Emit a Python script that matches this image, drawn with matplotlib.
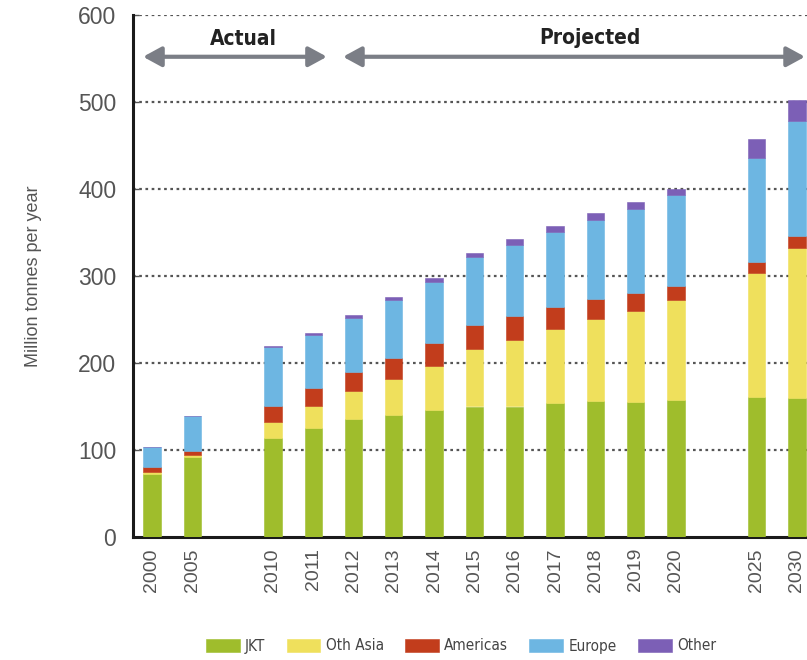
import matplotlib
matplotlib.use("Agg")
import matplotlib.pyplot as plt
from matplotlib import font_manager
import numpy as np

# Data (million tonnes per year)
years = ["2000", "2005", "2010", "2011", "2012", "2013", "2014", "2015",
         "2016", "2017", "2018", "2019", "2020", "2025", "2030"]
slots = [0, 1, 3, 4, 5, 6, 7, 8, 9, 10, 11, 12, 13, 15, 16]

jkt      = [72, 92, 114, 125, 136, 140, 146, 150, 150, 154, 156, 155, 157, 161, 160]
oth_asia = [3, 2, 18, 26, 32, 42, 50, 66, 77, 85, 95, 105, 115, 142, 172]
americas = [5, 5, 19, 20, 22, 24, 27, 28, 27, 25, 22, 20, 16, 13, 14]
europe   = [23, 40, 67, 61, 62, 66, 70, 78, 82, 86, 91, 97, 105, 120, 132]
other    = [0, 0, 2, 2, 3, 4, 5, 4, 6, 7, 8, 8, 7, 21, 24]

series_names = ["JKT", "Oth Asia", "Americas", "Europe", "Other"]
series_colors = ["#9fbd2c", "#efe05c", "#c23d1c", "#6db6e2", "#7c5fb6"]

y_ticks = [0, 100, 200, 300, 400, 500, 600]


def pick_family(candidates):
    names = {f.name for f in font_manager.fontManager.ttflist}
    for c in candidates:
        if c in names:
            return c
    return "DejaVu Sans"


narrow = pick_family(["Liberation Sans Narrow", "DejaVu Sans"])
plain = pick_family(["Liberation Sans", "Arial", "DejaVu Sans"])

plt.rcParams["font.family"] = [plain, "DejaVu Sans"]

fig = plt.figure(figsize=(8.07, 6.6), dpi=100)
ax = fig.add_axes([133 / 807, 1 - 537 / 660, 1 - 133 / 807, (537 - 15) / 660])

x = np.array(slots, dtype=float)
bottom = np.zeros(len(x))
for vals, name, col in zip([jkt, oth_asia, americas, europe, other],
                           series_names, series_colors):
    ax.bar(x, vals, width=0.43, bottom=bottom, color=col, label=name,
           zorder=3, edgecolor=col, linewidth=0.4)
    bottom += np.array(vals, dtype=float)

ax.set_xlim(-0.47, 16.25)
ax.set_ylim(0, 600)
ax.set_yticks(y_ticks)
ax.set_xticks(x)
ax.set_xticklabels(years, rotation=90)

for yv in y_ticks[1:]:
    ax.axhline(yv, color="#555555", linewidth=1.6,
               linestyle=(0, (1.2, 1.6)), zorder=1)

for side in ["top", "right"]:
    ax.spines[side].set_visible(False)
for side in ["left", "bottom"]:
    ax.spines[side].set_linewidth(2.2)
    ax.spines[side].set_color("#1a1a1a")

ax.tick_params(axis="y", direction="in", length=4, width=1, colors="#555555",
               labelsize=16.5, pad=12)
ax.tick_params(axis="x", length=0, colors="#555555", labelsize=14, pad=8)
for lab in ax.get_yticklabels() + ax.get_xticklabels():
    lab.set_color("#555555")

ax.set_ylabel("Million tonnes per year", fontsize=13, color="#555555",
              labelpad=26)

# Period arrows
arrow_style = dict(arrowstyle="<|-|>,head_length=1.1,head_width=0.6",
                   color="#7b7e86", lw=3.0, shrinkA=0, shrinkB=0)
ax.annotate("", xy=(-0.22, 552), xytext=(4.34, 552),
            arrowprops=arrow_style, annotation_clip=False)
ax.annotate("", xy=(4.74, 552), xytext=(16.2, 552),
            arrowprops=arrow_style, annotation_clip=False)
ax.text(2.26, 572, "Actual", ha="center", va="center", fontsize=15,
        fontweight="bold", color="#222222", family=[narrow, "DejaVu Sans"],
        fontstretch="condensed")
ax.text(10.87, 574, "Projected", ha="center", va="center", fontsize=15,
        fontweight="bold", color="#222222", family=[narrow, "DejaVu Sans"],
        fontstretch="condensed")

leg = fig.legend(loc="center", bbox_to_anchor=(461 / 807, 1 - 646 / 660),
                 ncol=5, frameon=False, handlelength=2.2, handleheight=0.9,
                 handletextpad=0.35, columnspacing=1.4,
                 prop={"family": [narrow, "DejaVu Sans"], "size": 11,
                       "stretch": "condensed"})
for t in leg.get_texts():
    t.set_color("#444444")

fig.savefig("out.png", dpi=100)
